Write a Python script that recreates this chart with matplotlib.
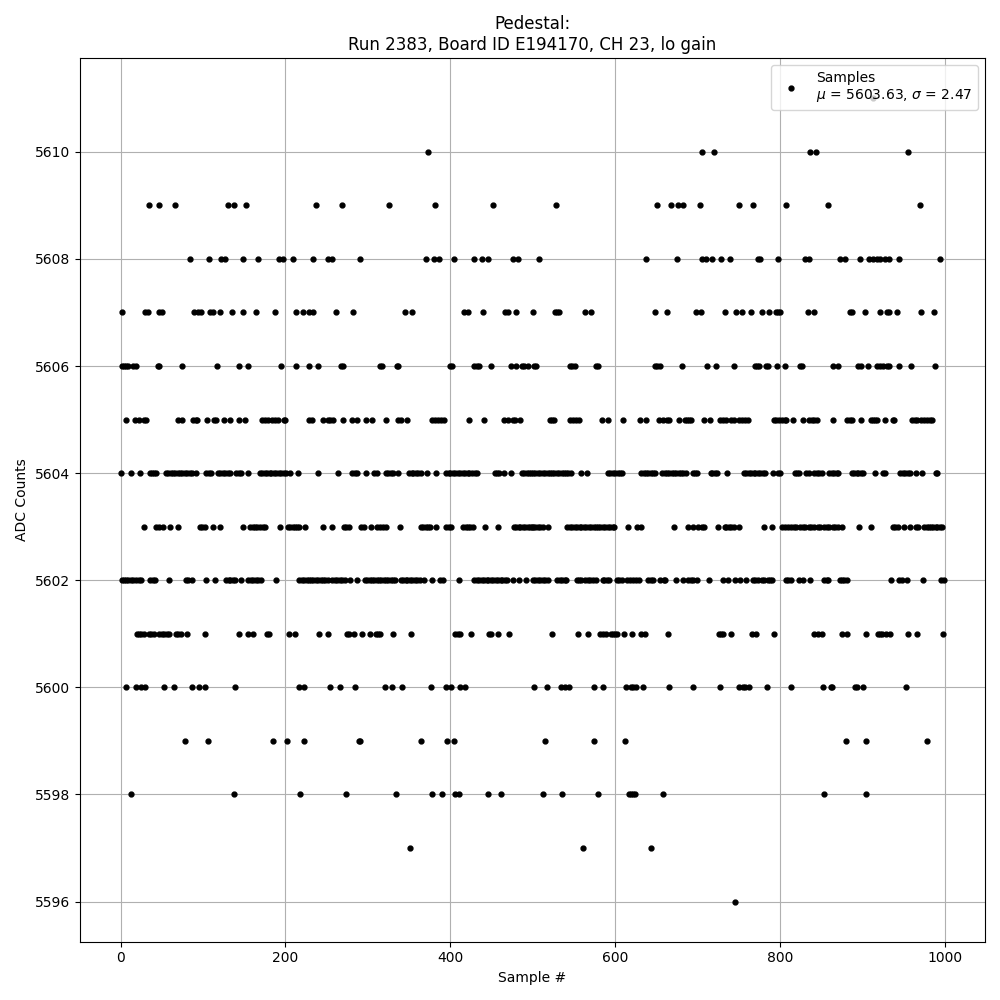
import numpy as np
import matplotlib.pyplot as plt

# sample numbers, grouped by ADC value
idx_5611 = [913]
idx_5610 = [373, 705, 720, 837, 844, 956]
idx_5609 = [34, 46, 66, 130, 137, 152, 237, 268, 326, 382, 452,
            528, 651, 668, 676, 682, 703, 750, 767, 807, 859, 970]
idx_5608 = [84, 107, 122, 126, 149, 167, 192, 197, 209, 234, 251, 257, 291, 371, 380,
            386, 404, 429, 439, 446, 476, 482,
            508, 638, 675, 705, 710, 718, 728, 739, 773, 776, 798, 830, 835, 873, 879,
            897, 908, 913, 918, 922, 927, 933, 944, 994]
idx_5607 = [1, 30, 33, 47, 50, 89, 94, 97, 108, 112, 121, 135, 149, 164, 187, 213, 221,
            229, 234, 261, 282, 345, 354, 417, 421, 440, 467, 470, 480, 500,
            527, 530, 532, 563, 571, 648, 663, 698, 704, 733, 747, 754, 765, 778, 787,
            795, 798, 800, 834, 842, 885, 887, 903, 921, 930, 933, 942, 971, 987]
idx_5606 = [2, 4, 7, 9, 15, 18, 45, 47, 74, 117, 144, 155, 195, 213, 229, 240, 267, 270,
            315, 317, 335, 337, 400, 402, 429, 432, 435, 450, 474, 480, 487, 490, 494,
            502, 504, 545, 548, 551, 577, 579, 648, 651, 654, 681, 712, 722, 744, 770,
            772, 775, 783, 785, 796, 806, 825, 827, 864, 871, 895, 899, 907, 918, 921,
            925, 930, 932, 944, 959, 988]
idx_5605 = [6, 17, 22, 28, 31, 70, 74, 88, 91, 93, 105, 113, 116, 125, 133, 144, 151,
            172, 175, 179, 184, 187, 191, 198, 200, 229, 232, 245, 251, 254, 258, 270,
            281, 287, 298, 305, 322, 337, 340, 348, 378, 382, 385, 389, 392, 423, 441,
            465, 470, 476, 479, 485,
            521, 523, 526, 545, 549, 553, 556, 584, 592, 610, 630, 638, 653, 658, 663,
            665, 678, 685, 687, 690, 692, 708, 715, 727, 731, 735, 741, 744, 750, 754,
            758, 761, 793, 795, 799, 802, 806, 808, 816, 828, 835, 839, 842, 845, 864,
            882, 885, 887, 898, 910, 913, 915, 918, 928, 937, 939, 960, 964, 967, 971,
            975, 978, 982, 985]
idx_5604 = [0, 12, 23, 35, 38, 41, 43, 55, 58, 61, 63, 66, 69, 72, 75, 78, 80, 84, 87,
            92, 104, 107, 110, 118, 121, 124, 127, 130, 133, 140, 143, 146, 155, 169,
            172, 175, 178, 181, 183, 186, 189, 192, 195, 198, 201, 206, 215, 239, 264,
            281, 284, 287, 298, 308, 311, 322, 325, 328, 330, 337, 350, 353, 355, 358,
            361, 364, 372, 383, 395, 398, 400, 403, 406, 409, 412, 415, 418, 421, 423,
            426, 430, 433, 454, 457, 459, 465, 474, 487, 490, 493, 496,
            498, 501, 503, 506, 509, 512, 515, 518, 521, 524, 526, 529, 532, 535, 538,
            541, 543, 546, 559, 566, 592, 594, 597, 600, 603, 606, 608, 632, 635, 638,
            640, 643, 646, 649, 657, 660, 663, 666, 669, 672, 674, 677, 680, 683, 686,
            695, 697, 700, 716, 718, 721, 724, 736, 756, 759, 762, 765, 768, 770, 773,
            776, 779, 782, 792, 798, 800, 818, 821, 823, 832, 835, 842, 845, 848, 851,
            860, 863, 866, 869, 871, 887, 890, 893, 895, 898, 901, 915, 925, 928, 946,
            949, 952, 955, 958, 965, 972, 989, 991]
idx_5603 = [28, 43, 47, 51, 60, 70, 96, 99, 102, 112, 121, 148, 157, 160, 163, 165, 169,
            173, 175, 193, 203, 206, 209, 211, 214, 217, 224, 246, 256, 271, 274, 277,
            292, 295, 304, 311, 315, 318, 322, 339, 364, 367, 370, 373, 375, 383, 395,
            398, 401, 416, 419, 421, 424, 427, 442, 458, 477, 480, 483, 485, 488, 491,
            494, 497,
            499, 501, 503, 506, 509, 512, 518, 542, 545, 548, 551, 554, 557, 559, 562,
            565, 568, 571, 574, 577, 579, 582, 585, 588, 591, 594, 597, 599, 616, 627,
            632, 672, 688, 695, 701, 705, 708, 725, 733, 735, 738, 741, 744, 750, 781,
            791, 802, 806, 810, 813, 817, 820, 824, 828, 831, 835, 838, 842, 846, 849,
            853, 857, 860, 864, 867, 871, 875, 896, 911, 937, 940, 943, 951, 958, 965,
            968, 975, 978, 981, 983, 986, 989, 991, 994, 997]
idx_5602 = [1, 4, 7, 9, 12, 15, 19, 22, 25, 36, 39, 42, 59, 79, 82, 86, 103, 115, 128,
            131, 133, 136, 139, 146, 155, 158, 161, 164, 167, 170, 189, 217, 220, 223,
            226, 229, 231, 234, 237, 240, 243, 246, 248, 251, 257, 260, 263, 266, 269,
            272, 278, 287, 296, 299, 302, 305, 308, 311, 313, 316, 319, 322, 325, 328,
            331, 333, 340, 343, 346, 348, 351, 354, 357, 360, 363, 368, 378, 388, 391,
            410, 429, 432, 435, 438, 441, 444, 446, 449, 452, 455, 458, 461, 463, 466,
            469, 476, 484, 492,
            501, 503, 506, 509, 512, 515, 519, 530, 533, 536, 539, 541, 554, 556, 559,
            564, 567, 570, 573, 577, 585, 587, 590, 593, 602, 605, 608, 614, 618, 622,
            626, 629, 640, 643, 646, 655, 659, 661, 674, 682, 688, 692, 695, 700, 714,
            731, 737, 745, 752, 759, 767, 770, 773, 778, 781, 785, 788, 791, 808, 810,
            813, 823, 828, 836, 854, 857, 859, 873, 876, 878, 881, 935, 945, 948, 954,
            974, 996, 999]
idx_5601 = [20, 22, 25, 28, 34, 37, 40, 47, 50, 53, 56, 59, 67, 70, 73, 81, 102, 143,
            154, 161, 177, 180, 204, 212, 241, 252, 275, 277, 283, 293, 302, 310, 312,
            315, 331, 352, 406, 409, 412, 425, 447, 449, 458, 471,
            524, 555, 567, 582, 585, 589, 595, 598, 600, 602, 611, 621, 632, 636, 664,
            726, 728, 731, 741, 766, 771, 793, 841, 846, 851, 876, 881, 904, 919, 921,
            924, 929, 934, 955, 966, 998]
idx_5600 = [7, 18, 25, 30, 52, 65, 87, 95, 102, 139, 217, 223, 254, 266, 284, 321, 329,
            341, 376, 395, 401, 412, 418, 502,
            517, 534, 539, 544, 575, 585, 613, 619, 622, 625, 634, 665, 695, 727, 750,
            755, 758, 762, 784, 814, 852, 862, 863, 891, 894, 901, 953]
idx_5599 = [78, 106, 185, 202, 223, 289, 290, 365, 396, 405,
            515, 575, 612, 880, 905, 979]
idx_5598 = [13, 138, 218, 274, 334, 378, 390, 406, 411, 446, 462,
            513, 535, 579, 617, 619, 622, 624, 658, 854, 904]
idx_5597 = [351, 561, 644]
idx_5596 = [745]

levels = {5611: idx_5611, 5610: idx_5610, 5609: idx_5609, 5608: idx_5608,
          5607: idx_5607, 5606: idx_5606, 5605: idx_5605, 5604: idx_5604,
          5603: idx_5603, 5602: idx_5602, 5601: idx_5601, 5600: idx_5600,
          5599: idx_5599, 5598: idx_5598, 5597: idx_5597, 5596: idx_5596}

x = []
y = []
for adc, samples in levels.items():
    x += samples
    y += [adc] * len(samples)
order = np.argsort(x)
x = np.array(x)[order]
y = np.array(y)[order]

fig, ax = plt.subplots(figsize=(10, 10), dpi=100)
ax.plot(x, y, 'k.', markersize=7,
        label='Samples\n$\\mu$ = 5603.63, $\\sigma$ = 2.47')
ax.set_title('Pedestal:\nRun 2383, Board ID E194170, CH 23, lo gain')
ax.set_xlabel('Sample #')
ax.set_ylabel('ADC Counts')
ax.grid()
ax.legend(loc='upper right')
fig.tight_layout()
plt.savefig('out.png')
